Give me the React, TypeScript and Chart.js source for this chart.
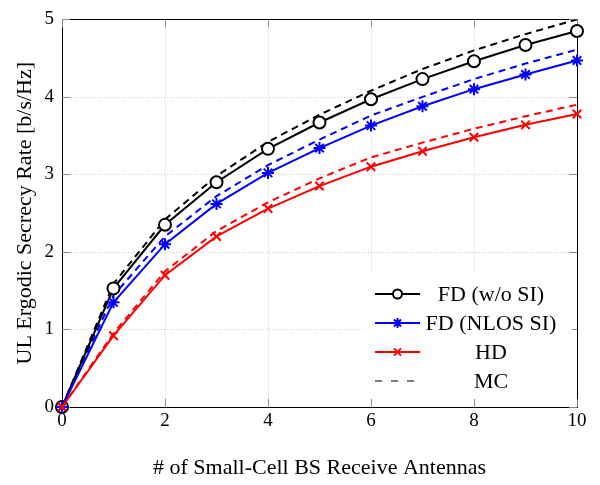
import React, { useEffect, useRef } from "react";
import { Chart, registerables } from "chart.js";

Chart.register(...registerables);

const antennas = [0, 1, 2, 3, 4, 5, 6, 7, 8, 9, 10];
const fdNoSI = [0, 1.53, 2.35, 2.9, 3.33, 3.67, 3.97, 4.23, 4.46, 4.67, 4.85];
const fdNlosSI = [0, 1.35, 2.1, 2.62, 3.02, 3.34, 3.63, 3.88, 4.1, 4.29, 4.47];
const hd = [0, 0.92, 1.7, 2.2, 2.56, 2.85, 3.1, 3.3, 3.48, 3.64, 3.78];
const mcFdNoSI = [0, 1.59, 2.42, 2.98, 3.42, 3.77, 4.08, 4.36, 4.6, 4.81, 5.0];
const mcFdNlosSI = [0, 1.44, 2.2, 2.72, 3.12, 3.45, 3.76, 4.0, 4.23, 4.43, 4.61];
const mcHd = [0, 0.95, 1.75, 2.27, 2.64, 2.95, 3.22, 3.41, 3.59, 3.75, 3.9];

const xTicks = [0, 2, 4, 6, 8, 10];
const yTicks = [0, 1, 2, 3, 4, 5];

const legendLabels = ["FD (w/o SI)", "FD (NLOS SI)", "HD", "MC"];

const SERIF = "'Liberation Serif', 'DejaVu Serif', serif";

function pts(ys: number[]) {
  return antennas.map((x, i) => ({ x, y: ys[i] }));
}

function drawMarker(ctx: CanvasRenderingContext2D, style: string, x: number, y: number, r: number, color: string) {
  ctx.save();
  ctx.strokeStyle = color;
  ctx.lineWidth = 2;
  ctx.beginPath();
  if (style === "circle") {
    ctx.fillStyle = "#fff";
    ctx.arc(x, y, r, 0, Math.PI * 2);
    ctx.fill();
    ctx.stroke();
  } else if (style === "star") {
    for (let k = 0; k < 4; k++) {
      const a = (k * Math.PI) / 4;
      ctx.moveTo(x - r * Math.cos(a), y - r * Math.sin(a));
      ctx.lineTo(x + r * Math.cos(a), y + r * Math.sin(a));
    }
    ctx.stroke();
  } else if (style === "crossRot") {
    const d = r * 0.72;
    ctx.moveTo(x - d, y - d);
    ctx.lineTo(x + d, y + d);
    ctx.moveTo(x + d, y - d);
    ctx.lineTo(x - d, y + d);
    ctx.stroke();
  }
  ctx.restore();
}

const gridPlugin = {
  id: "customGrid",
  beforeDatasetsDraw(chart: any) {
    const { ctx, chartArea: a, scales } = chart;
    ctx.save();
    ctx.strokeStyle = "#c8c8c8";
    ctx.lineWidth = 1;
    ctx.setLineDash([1, 2]);
    xTicks.slice(1, -1).forEach((v) => {
      const px = Math.round(scales.x.getPixelForValue(v)) + 0.5;
      ctx.beginPath();
      ctx.moveTo(px, a.top);
      ctx.lineTo(px, a.bottom);
      ctx.stroke();
    });
    yTicks.slice(1, -1).forEach((v) => {
      const py = Math.round(scales.y.getPixelForValue(v)) + 0.5;
      ctx.beginPath();
      ctx.moveTo(a.left, py);
      ctx.lineTo(a.right, py);
      ctx.stroke();
    });
    // axes box (under the data so edge markers stay on top)
    ctx.strokeStyle = "#000";
    ctx.setLineDash([]);
    ctx.strokeRect(Math.round(a.left) + 0.5, Math.round(a.top) + 0.5, Math.round(a.right - a.left), Math.round(a.bottom - a.top));
    ctx.strokeStyle = "#888";
    const tl = 8;
    xTicks.forEach((v) => {
      const px = Math.round(scales.x.getPixelForValue(v)) + 0.5;
      ctx.beginPath();
      ctx.moveTo(px, a.bottom);
      ctx.lineTo(px, a.bottom - tl);
      ctx.moveTo(px, a.top);
      ctx.lineTo(px, a.top + tl);
      ctx.stroke();
    });
    yTicks.forEach((v) => {
      const py = Math.round(scales.y.getPixelForValue(v)) + 0.5;
      ctx.beginPath();
      ctx.moveTo(a.left, py);
      ctx.lineTo(a.left + tl, py);
      ctx.moveTo(a.right, py);
      ctx.lineTo(a.right - tl, py);
      ctx.stroke();
    });
    ctx.restore();
  },
  afterDatasetsDraw(chart: any) {
    const { ctx, chartArea: a } = chart;
    const lx1 = a.right - 212;
    const ly1 = a.bottom - 133;
    const lx2 = a.right - 5;
    const ly2 = a.bottom - 8;
    ctx.save();
    ctx.fillStyle = "#fff";
    ctx.fillRect(lx1, ly1, lx2 - lx1, ly2 - ly1);
    const items = [
      { color: "#000", marker: "circle", dash: false },
      { color: "#0000ff", marker: "star", dash: false },
      { color: "#ff0000", marker: "crossRot", dash: false },
      { color: "#000", marker: "", dash: true },
    ];
    items.forEach((it, i) => {
      const cy = ly1 + 20 + i * 29;
      const sx1 = lx1 + 10;
      const sx2 = lx1 + 55;
      ctx.save();
      ctx.strokeStyle = it.color;
      ctx.lineWidth = it.dash ? 1 : 2;
      ctx.setLineDash(it.dash ? [7, 9] : []);
      ctx.beginPath();
      ctx.moveTo(sx1, cy);
      ctx.lineTo(sx2, cy);
      ctx.stroke();
      ctx.restore();
      if (it.marker) drawMarker(ctx, it.marker, (sx1 + sx2) / 2, cy, it.marker === "circle" ? 4.5 : 5, it.color);
      ctx.fillStyle = "#000";
      ctx.font = `22px ${SERIF}`;
      ctx.textAlign = "center";
      ctx.textBaseline = "middle";
      ctx.fillText(legendLabels[i], lx1 + 126, cy + 1);
    });
    ctx.restore();
  },
};

export default function App() {
  const ref = useRef<HTMLCanvasElement | null>(null);
  useEffect(() => {
    if (!ref.current) return;
    const solid = (label: string, data: number[], color: string, style: string, r: number, order: number) => ({
      label,
      data: pts(data),
      borderColor: color,
      backgroundColor: style === "circle" ? "#fff" : color,
      borderWidth: 2,
      pointStyle: style,
      pointRadius: r,
      pointBorderWidth: 2,
      pointBorderColor: color,
      pointBackgroundColor: style === "circle" ? "#fff" : color,
      tension: 0,
      clip: 10,
      order,
    });
    const dashed = (label: string, data: number[], color: string, order: number) => ({
      label,
      data: pts(data),
      borderColor: color,
      borderWidth: 2,
      borderDash: [7, 5],
      pointRadius: 0,
      tension: 0,
      order,
    });
    const chart = new Chart(ref.current, {
      type: "line",
      data: {
        datasets: [
          dashed("MC FD (w/o SI)", mcFdNoSI, "#000", 6),
          dashed("MC FD (NLOS SI)", mcFdNlosSI, "#0000ff", 5),
          dashed("MC HD", mcHd, "#ff0000", 4),
          solid("FD (w/o SI)", fdNoSI, "#000", "circle", 6, 3),
          solid("FD (NLOS SI)", fdNlosSI, "#0000ff", "star", 6, 2),
          solid("HD", hd, "#ff0000", "crossRot", 6, 1),
        ] as any,
      },
      options: {
        responsive: false,
        animation: false,
        layout: { padding: { left: 0, top: 8, right: 23, bottom: 0 } },
        plugins: { legend: { display: false }, tooltip: { enabled: false } },
        scales: {
          x: {
            type: "linear",
            min: 0,
            max: 10,
            grid: { display: false, drawTicks: false },
            border: { display: false },
            ticks: {
              stepSize: 2,
              padding: 3,
              color: "#000",
              font: { family: SERIF, size: 19 },
              maxRotation: 0,
            },
            title: {
              display: true,
              text: "# of Small-Cell BS Receive Antennas",
              color: "#000",
              font: { family: SERIF, size: 22 },
              padding: { top: 0, bottom: 4 },
            },
            afterFit: (s: any) => {
              s.height = 78;
            },
          },
          y: {
            type: "linear",
            min: 0,
            max: 5,
            grid: { display: false, drawTicks: false },
            border: { display: false },
            ticks: {
              stepSize: 1,
              padding: 8,
              color: "#000",
              font: { family: SERIF, size: 19 },
            },
            title: {
              display: true,
              text: "UL Ergodic Secrecy Rate [b/s/Hz]",
              color: "#000",
              font: { family: SERIF, size: 22 },
              padding: { top: 12, bottom: 0 },
            },
            afterFit: (s: any) => {
              s.width = 62;
            },
          },
        },
      },
      plugins: [gridPlugin],
    });
    return () => chart.destroy();
  }, []);
  return (
    <div style={{ position: "absolute", left: 0, top: 0, width: 600, height: 485, background: "#fff" }}>
      <canvas ref={ref} width={600} height={485} style={{ width: 600, height: 485 }} />
    </div>
  );
}
